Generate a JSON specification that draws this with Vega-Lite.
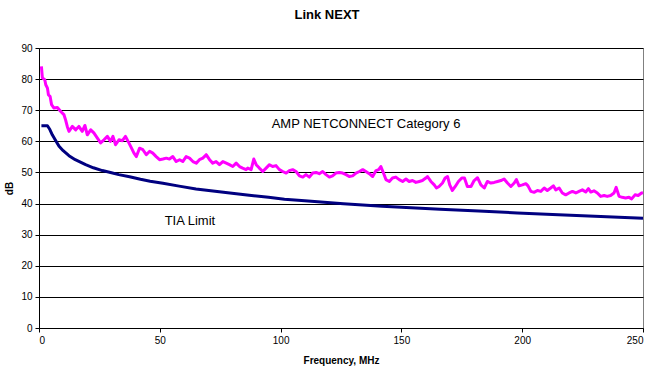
{
  "$schema": "https://vega.github.io/schema/vega-lite/v6.json",
  "autosize": {"type": "none"},
  "width": 604,
  "height": 280,
  "padding": {"left": 39, "top": 48, "right": 5, "bottom": 43},
  "background": "white",
  "title": {"text": "Link NEXT", "font": "Liberation Sans", "fontSize": 13, "fontWeight": "bold", "color": "black", "anchor": "middle", "frame": "group", "dx": -14, "offset": 21},
  "config": {
    "view": {"stroke": "#808080", "strokeWidth": 1},
    "axis": {"labelFont": "Liberation Sans", "labelFontSize": 10, "labelColor": "black", "titleFont": "Liberation Sans", "titleFontSize": 10, "titleFontWeight": "bold", "titleColor": "black", "domainColor": "black", "tickColor": "black", "tickSize": 4, "labelPadding": 3, "labelOverlap": false}
  },
  "datasets": {
    "amp": [
      {"f":1.0,"dB":84.1},{"f":1.4,"dB":80.4},{"f":2.4,"dB":79.8},{"f":2.8,"dB":78.2},{"f":3.5,"dB":77.1},{"f":3.9,"dB":75.0},{"f":4.6,"dB":74.4},{"f":5.2,"dB":71.8},{"f":6.2,"dB":70.7},{"f":7.6,"dB":70.9},{"f":9.0,"dB":69.6},{"f":10.3,"dB":68.6},{"f":11.0,"dB":66.9},{"f":11.7,"dB":64.8},{"f":12.4,"dB":63.2},{"f":13.8,"dB":64.8},{"f":15.2,"dB":63.7},{"f":16.5,"dB":64.8},{"f":17.9,"dB":63.2},{"f":19.0,"dB":65.1},{"f":20.0,"dB":62.1},{"f":21.4,"dB":63.7},{"f":22.7,"dB":62.7},{"f":24.1,"dB":61.1},{"f":25.5,"dB":59.5},{"f":26.9,"dB":60.5},{"f":28.3,"dB":61.6},{"f":29.6,"dB":60.0},{"f":30.6,"dB":61.6},{"f":31.7,"dB":58.9},{"f":33.1,"dB":60.5},{"f":34.5,"dB":60.2},{"f":35.8,"dB":61.6},{"f":37.2,"dB":59.5},{"f":38.3,"dB":57.8},{"f":39.3,"dB":56.2},{"f":40.3,"dB":55.1},{"f":41.6,"dB":57.8},{"f":43.0,"dB":57.3},{"f":44.4,"dB":55.7},{"f":45.8,"dB":56.8},{"f":47.1,"dB":56.2},{"f":48.5,"dB":55.1},{"f":49.9,"dB":54.1},{"f":51.3,"dB":54.3},{"f":52.7,"dB":54.6},{"f":54.0,"dB":54.3},{"f":55.4,"dB":55.1},{"f":56.8,"dB":53.5},{"f":58.2,"dB":54.1},{"f":59.5,"dB":53.5},{"f":60.9,"dB":55.1},{"f":62.3,"dB":54.6},{"f":63.7,"dB":53.5},{"f":65.1,"dB":53.0},{"f":66.4,"dB":54.1},{"f":67.8,"dB":54.6},{"f":69.2,"dB":55.7},{"f":70.6,"dB":54.1},{"f":71.9,"dB":53.0},{"f":73.3,"dB":53.5},{"f":74.7,"dB":52.5},{"f":76.1,"dB":53.5},{"f":77.5,"dB":53.0},{"f":78.8,"dB":52.5},{"f":80.2,"dB":51.9},{"f":81.6,"dB":53.0},{"f":83.0,"dB":51.9},{"f":84.3,"dB":51.4},{"f":85.7,"dB":50.9},{"f":86.4,"dB":51.4},{"f":87.8,"dB":50.9},{"f":88.9,"dB":54.3},{"f":89.9,"dB":52.5},{"f":91.2,"dB":51.4},{"f":92.6,"dB":50.3},{"f":94.0,"dB":51.4},{"f":95.4,"dB":52.5},{"f":96.7,"dB":51.9},{"f":98.1,"dB":52.2},{"f":99.5,"dB":50.9},{"f":100.9,"dB":50.3},{"f":102.3,"dB":49.8},{"f":103.6,"dB":50.6},{"f":105.0,"dB":50.9},{"f":106.4,"dB":50.3},{"f":107.8,"dB":48.9},{"f":109.2,"dB":48.5},{"f":110.5,"dB":49.3},{"f":111.9,"dB":48.5},{"f":113.3,"dB":49.8},{"f":114.7,"dB":50.0},{"f":116.0,"dB":49.6},{"f":117.4,"dB":50.3},{"f":118.8,"dB":49.3},{"f":120.2,"dB":48.5},{"f":121.5,"dB":48.9},{"f":122.9,"dB":49.8},{"f":124.3,"dB":50.0},{"f":125.7,"dB":49.8},{"f":127.1,"dB":49.3},{"f":128.4,"dB":48.7},{"f":129.8,"dB":48.9},{"f":131.2,"dB":49.8},{"f":132.6,"dB":50.3},{"f":134.0,"dB":50.9},{"f":135.3,"dB":50.3},{"f":136.7,"dB":49.6},{"f":138.1,"dB":48.7},{"f":139.5,"dB":50.6},{"f":140.6,"dB":50.9},{"f":141.5,"dB":51.9},{"f":142.5,"dB":50.0},{"f":143.6,"dB":47.7},{"f":145.0,"dB":47.1},{"f":146.3,"dB":48.2},{"f":147.7,"dB":48.5},{"f":149.1,"dB":47.7},{"f":150.5,"dB":47.1},{"f":151.9,"dB":47.9},{"f":153.2,"dB":47.1},{"f":154.6,"dB":47.4},{"f":156.0,"dB":46.8},{"f":157.4,"dB":47.1},{"f":158.7,"dB":47.4},{"f":160.1,"dB":48.2},{"f":160.8,"dB":48.7},{"f":162.2,"dB":47.1},{"f":163.6,"dB":46.0},{"f":164.5,"dB":45.0},{"f":165.6,"dB":45.5},{"f":167.0,"dB":46.6},{"f":168.1,"dB":48.2},{"f":169.1,"dB":48.7},{"f":170.0,"dB":46.0},{"f":171.1,"dB":44.2},{"f":172.3,"dB":45.5},{"f":173.6,"dB":47.1},{"f":175.0,"dB":48.2},{"f":176.1,"dB":48.2},{"f":177.3,"dB":45.5},{"f":178.8,"dB":45.5},{"f":180.1,"dB":47.4},{"f":181.5,"dB":48.3},{"f":182.9,"dB":46.0},{"f":184.3,"dB":45.0},{"f":185.6,"dB":47.1},{"f":187.0,"dB":46.6},{"f":188.4,"dB":46.8},{"f":189.8,"dB":47.1},{"f":191.2,"dB":47.4},{"f":192.5,"dB":47.9},{"f":193.9,"dB":46.6},{"f":195.3,"dB":45.5},{"f":196.7,"dB":46.6},{"f":197.6,"dB":47.7},{"f":198.7,"dB":45.7},{"f":200.1,"dB":46.0},{"f":201.5,"dB":46.4},{"f":202.4,"dB":45.7},{"f":203.6,"dB":43.9},{"f":204.9,"dB":43.6},{"f":206.3,"dB":44.2},{"f":207.7,"dB":43.9},{"f":209.1,"dB":45.0},{"f":210.4,"dB":44.2},{"f":211.8,"dB":45.0},{"f":212.9,"dB":45.7},{"f":213.9,"dB":44.4},{"f":215.3,"dB":45.0},{"f":216.6,"dB":43.4},{"f":218.0,"dB":42.8},{"f":219.4,"dB":43.4},{"f":220.8,"dB":43.9},{"f":222.2,"dB":43.4},{"f":223.5,"dB":43.9},{"f":224.9,"dB":44.4},{"f":226.3,"dB":43.7},{"f":227.4,"dB":44.8},{"f":228.4,"dB":43.7},{"f":229.7,"dB":44.1},{"f":231.1,"dB":43.4},{"f":232.5,"dB":42.3},{"f":233.9,"dB":42.6},{"f":235.2,"dB":42.3},{"f":236.6,"dB":42.6},{"f":238.0,"dB":43.4},{"f":238.9,"dB":45.2},{"f":240.1,"dB":42.3},{"f":241.4,"dB":42.0},{"f":242.8,"dB":41.8},{"f":244.2,"dB":42.0},{"f":245.3,"dB":41.5},{"f":246.7,"dB":42.8},{"f":248.0,"dB":42.6},{"f":249.4,"dB":43.4},{"f":250.0,"dB":43.5}
    ],
    "tia": [
      {"f":1,"dB":65},{"f":2,"dB":65},{"f":3.5,"dB":65},{"f":4.5,"dB":63.8},{"f":5.5,"dB":62.1},{"f":7,"dB":60.1},{"f":8.3,"dB":58.4},{"f":10,"dB":57.0},{"f":12.4,"dB":55.4},{"f":15,"dB":54.1},{"f":19.3,"dB":52.5},{"f":22.5,"dB":51.5},{"f":26.2,"dB":50.6},{"f":30,"dB":49.9},{"f":33,"dB":49.3},{"f":37.5,"dB":48.6},{"f":42,"dB":47.8},{"f":46,"dB":47.2},{"f":51.3,"dB":46.5},{"f":58,"dB":45.6},{"f":65,"dB":44.7},{"f":72,"dB":44.0},{"f":79,"dB":43.4},{"f":87,"dB":42.7},{"f":95,"dB":42.0},{"f":101.6,"dB":41.4},{"f":110,"dB":40.9},{"f":118,"dB":40.4},{"f":126,"dB":39.9},{"f":134,"dB":39.5},{"f":142,"dB":39.1},{"f":150,"dB":38.8},{"f":166,"dB":38.2},{"f":182,"dB":37.6},{"f":198,"dB":37.0},{"f":215,"dB":36.4},{"f":230,"dB":35.9},{"f":240,"dB":35.6},{"f":250,"dB":35.3}
    ],
    "labels": [
      {"f":96.3,"dB":64.3,"text":"AMP NETCONNECT Category 6"},
      {"f":52.0,"dB":33.2,"text":"TIA Limit"}
    ]
  },
  "encoding": {
    "x": {"field": "f", "type": "quantitative", "scale": {"domain": [0, 250], "nice": false, "zero": false}, "axis": {"title": "Frequency, MHz", "values": [0, 50, 100, 150, 200, 250], "grid": false, "titlePadding": 10}},
    "y": {"field": "dB", "type": "quantitative", "scale": {"domain": [0, 90], "nice": false}, "axis": {"title": "dB", "values": [0, 10, 20, 30, 40, 50, 60, 70, 80, 90], "grid": true, "gridColor": "black", "gridWidth": 1, "gridOpacity": 1, "titlePadding": 6}}
  },
  "layer": [
    {
      "data": {"name": "amp"},
      "mark": {"type": "line", "color": "#FF00FF", "strokeWidth": 3, "strokeJoin": "round"}
    },
    {
      "data": {"name": "tia"},
      "mark": {"type": "line", "color": "#000080", "strokeWidth": 3, "strokeJoin": "round"}
    },
    {
      "data": {"name": "labels"},
      "mark": {"type": "text", "align": "left", "baseline": "alphabetic", "font": "Liberation Sans", "fontSize": 13, "color": "black"},
      "encoding": {
        "text": {"field": "text"}
      }
    }
  ]
}
